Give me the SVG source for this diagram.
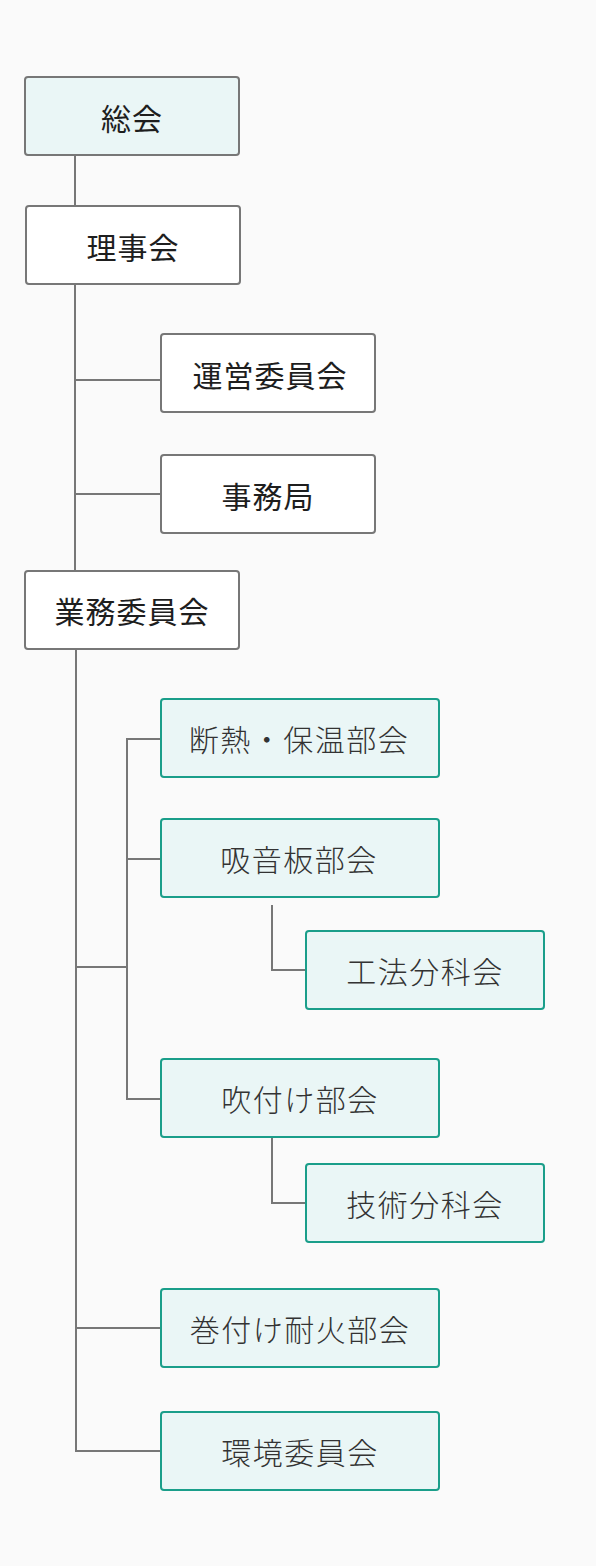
<svg xmlns="http://www.w3.org/2000/svg" width="596" height="1566" viewBox="0 0 596 1566">
<style>
.bg{fill:#fafafa}
.n rect{fill:#ffffff;stroke:#777777;stroke-width:2}
.n.root rect{fill:#eaf6f6;stroke:#777777}
.t rect{fill:#eaf6f6;stroke:#1a9e8a;stroke-width:2}
text{font-family:"Noto Sans CJK JP","Noto Sans CJK SC",sans-serif;font-size:30px;text-anchor:middle;dominant-baseline:central;letter-spacing:1px}
.n text{fill:#1e1e1e}
.t text{fill:#333333;font-weight:300;letter-spacing:1.5px}
.c path{fill:none;stroke:#777777;stroke-width:2}
</style>
<rect class="bg" x="0" y="0" width="596" height="1566"/>
<g class="c" id="connectors">
<path d="M75,155V206"/>
<path d="M75,284V571"/>
<path d="M75,380H161"/>
<path d="M75,494H161"/>
<path d="M76,649V1451H161"/>
<path d="M76,967H127"/>
<path d="M76,1328H161"/>
<path d="M161,739H127V1099H161"/>
<path d="M127,859H161"/>
<path d="M272,905V970H306"/>
<path d="M272,1137V1203H306"/>
</g>
<g id="n-soukai" class="n root"><rect x="25" y="77" width="214" height="78" rx="3"/><text x="132" y="117">総会</text></g>
<g id="n-rijikai" class="n"><rect x="26" y="206" width="214" height="78" rx="3"/><text x="133" y="246">理事会</text></g>
<g id="n-unei" class="n"><rect x="161" y="334" width="214" height="78" rx="3"/><text x="270" y="374">運営委員会</text></g>
<g id="n-jimukyoku" class="n"><rect x="161" y="455" width="214" height="78" rx="3"/><text x="268" y="495">事務局</text></g>
<g id="n-gyomu" class="n"><rect x="25" y="571" width="214" height="78" rx="3"/><text x="132" y="610">業務委員会</text></g>
<g id="t-dannetsu" class="t"><rect x="161" y="699" width="278" height="78" rx="3"/><text x="299" y="738">断熱・保温部会</text></g>
<g id="t-kyuon" class="t"><rect x="161" y="819" width="278" height="78" rx="3"/><text x="299" y="858">吸音板部会</text></g>
<g id="t-kouhou" class="t"><rect x="306" y="931" width="238" height="78" rx="3"/><text x="425" y="970">工法分科会</text></g>
<g id="t-fukitsuke" class="t"><rect x="161" y="1059" width="278" height="78" rx="3"/><text x="300" y="1098">吹付け部会</text></g>
<g id="t-gijutsu" class="t"><rect x="306" y="1164" width="238" height="78" rx="3"/><text x="425" y="1203">技術分科会</text></g>
<g id="t-makitsuke" class="t"><rect x="161" y="1289" width="278" height="78" rx="3"/><text x="300" y="1328">巻付け耐火部会</text></g>
<g id="t-kankyo" class="t"><rect x="161" y="1412" width="278" height="78" rx="3"/><text x="300" y="1451">環境委員会</text></g>
</svg>
